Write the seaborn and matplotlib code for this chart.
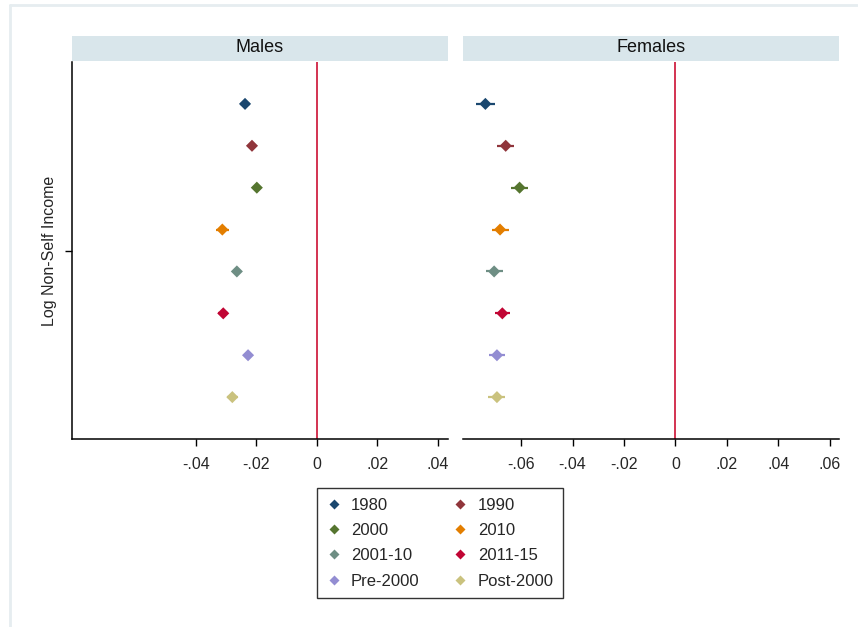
import matplotlib
matplotlib.use("Agg")
import matplotlib.pyplot as plt
from matplotlib.lines import Line2D
from matplotlib.patches import Rectangle
import numpy as np
import pandas as pd
import seaborn as sns

# Coefficient estimates by period
periods = ["1980", "1990", "2000", "2010", "2001-10", "2011-15", "Pre-2000", "Post-2000"]
male_coef = [-0.0237, -0.0214, -0.0198, -0.0312, -0.0264, -0.0309, -0.0227, -0.0279]
male_ci = [0.0017, 0.0013, 0.0013, 0.0021, 0.0014, 0.0017, 0.0014, 0.0018]
female_coef = [-0.0739, -0.0660, -0.0606, -0.0682, -0.0705, -0.0673, -0.0694, -0.0694]
female_ci = [0.0036, 0.0033, 0.0033, 0.0033, 0.0033, 0.0030, 0.0030, 0.0033]

palette = ["#1a476f", "#90353b", "#55752f", "#e37e00",
           "#6e8e84", "#c10534", "#938dd2", "#cac27e"]

male_ticks = [-0.04, -0.02, 0, 0.02, 0.04]
female_ticks = [-0.06, -0.04, -0.02, 0, 0.02, 0.04, 0.06]


def fmt(v):
    if v == 0:
        return "0"
    s = f"{v:.2f}"
    return s.replace("0.", ".")


n = len(periods)
ypos = list(range(n, 0, -1))

df = pd.concat([
    pd.DataFrame({"panel": "Males", "period": periods, "coef": male_coef,
                  "ci": male_ci, "y": ypos}),
    pd.DataFrame({"panel": "Females", "period": periods, "coef": female_coef,
                  "ci": female_ci, "y": ypos}),
])

sns.set_style("white")
plt.rcParams["font.family"] = ["Liberation Sans", "DejaVu Sans"]

fig = plt.figure(figsize=(8.58, 6.27), dpi=100)
fig.patch.set_facecolor("white")

ax_m = fig.add_axes([72 / 858, 188 / 627, 376 / 858, 377 / 627])
ax_f = fig.add_axes([463 / 858, 188 / 627, 376 / 858, 377 / 627])

panels = [("Males", ax_m, (-0.0809, 0.0434), male_ticks),
          ("Females", ax_f, (-0.0826, 0.0636), female_ticks)]

for name, ax, xlim, ticks in panels:
    sub = df[df["panel"] == name]
    ax.axvline(0, color="#cc1133", lw=1.2, zorder=1)
    for (_, r), c in zip(sub.iterrows(), palette):
        ax.plot([r["coef"] - r["ci"], r["coef"] + r["ci"]], [r["y"], r["y"]],
                color=c, lw=1.6, solid_capstyle="butt", zorder=2)
    sns.scatterplot(data=sub, x="coef", y="y", hue="period", palette=palette,
                    hue_order=periods, marker="D", s=38, edgecolor="none",
                    legend=False, ax=ax, zorder=3)
    ax.set_xlim(*xlim)
    ax.set_ylim(0, n + 1)
    ax.set_xticks(ticks)
    ax.set_xticklabels([fmt(t) for t in ticks], fontsize=11.5)
    ax.set_xlabel("")
    ax.set_ylabel("")
    ax.tick_params(axis="x", direction="out", length=5, width=1, color="black",
                   pad=8, bottom=True)
    for side in ["top", "right"]:
        ax.spines[side].set_visible(False)
    ax.spines["bottom"].set_color("black")
    ax.spines["bottom"].set_linewidth(1.1)
    ax.add_patch(Rectangle((0, 1.0 + 1 / 377), 1, 25 / 377, transform=ax.transAxes,
                           facecolor="#d9e6eb", edgecolor="none", clip_on=False))
    ax.text(0.5, 1.0 + 14 / 377, name, transform=ax.transAxes, ha="center",
            va="center", fontsize=13, color="#111111")

ax_m.spines["left"].set_color("black")
ax_m.spines["left"].set_linewidth(1.1)
ax_m.set_yticks([(n + 1) / 2])
ax_m.set_yticklabels([""])
ax_m.tick_params(axis="y", direction="out", length=5, width=1, color="black", left=True)
ax_m.set_ylabel("Log Non-Self Income", fontsize=11.5, labelpad=2)

ax_f.spines["left"].set_visible(False)
ax_f.set_yticks([])

# Legend, filled row by row
order = [0, 2, 4, 6, 1, 3, 5, 7]
handles = [Line2D([0], [0], marker="D", color="none", markerfacecolor=palette[i],
                  markeredgecolor="none", markersize=5) for i in order]
labels = [periods[i] for i in order]
leg = fig.legend(handles, labels, ncol=2, loc="center",
                 bbox_to_anchor=(440 / 858, 1 - 543 / 627), frameon=True,
                 fontsize=12, handlelength=0.9, handletextpad=0.6,
                 columnspacing=2.0, labelspacing=0.62, borderpad=0.55,
                 borderaxespad=0, fancybox=False)
leg.get_frame().set_edgecolor("black")
leg.get_frame().set_linewidth(1.0)

# Faint outer frame
fig.add_artist(Line2D([10 / 858, 857 / 858], [1 - 5 / 627, 1 - 5 / 627],
                      transform=fig.transFigure, color="#e6edf0", lw=2))
fig.add_artist(Line2D([10 / 858, 10 / 858], [1 - 5 / 627, 0],
                      transform=fig.transFigure, color="#e6edf0", lw=2))

fig.savefig("out.png", dpi=100)
